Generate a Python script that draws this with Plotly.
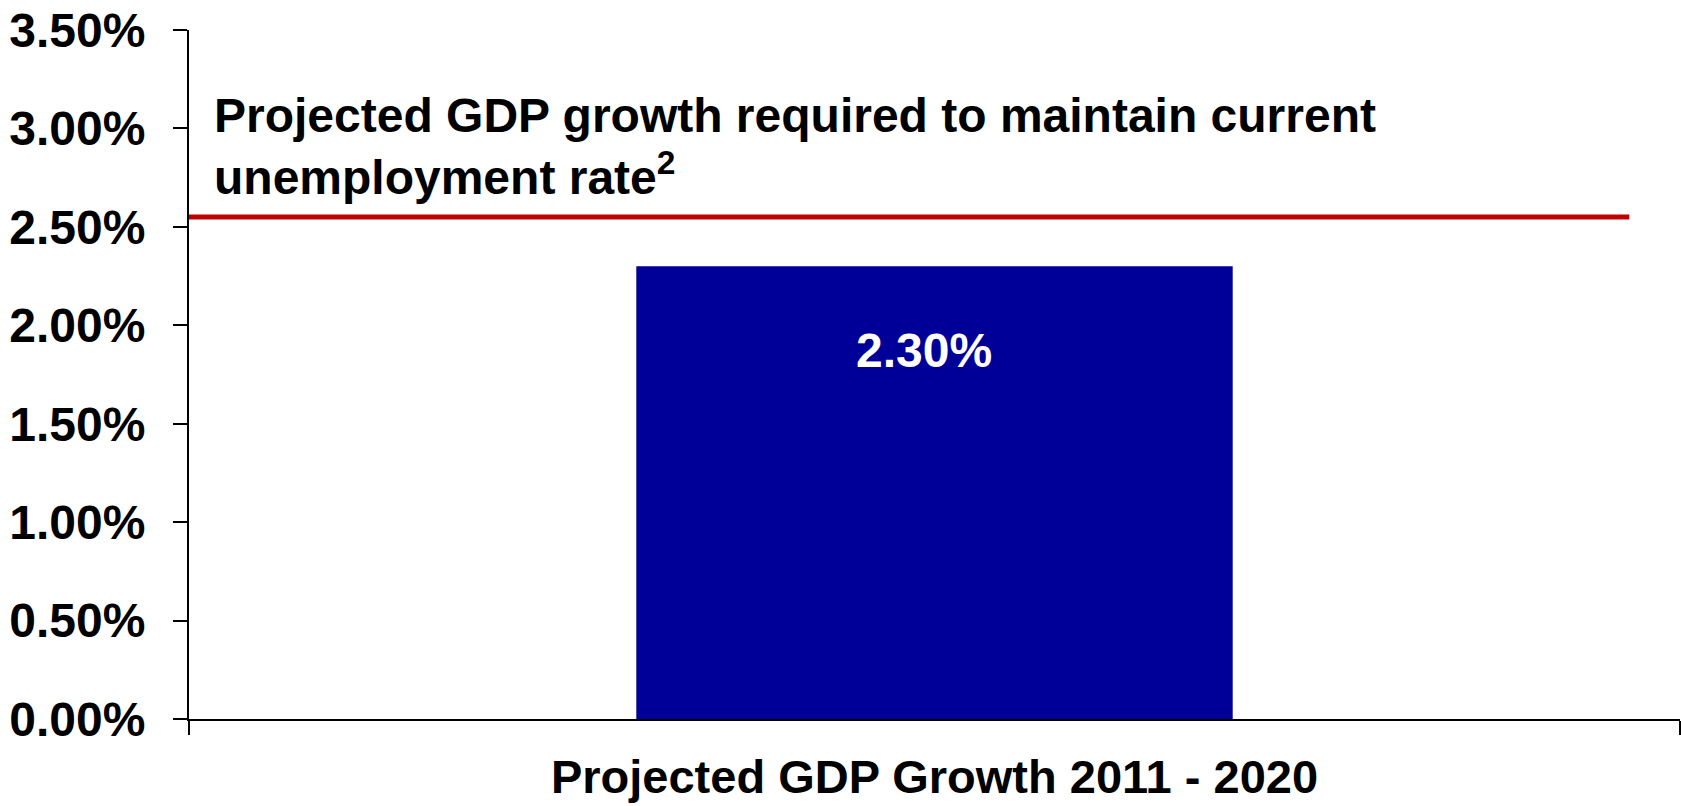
import plotly.graph_objects as go

# Chart data
categories = ["Projected GDP Growth 2011 - 2020"]
gdp_growth = [2.30]            # projected average annual GDP growth, %
required_growth = 2.55         # growth needed to hold unemployment steady, %
y_ticks = [0.0, 0.5, 1.0, 1.5, 2.0, 2.5, 3.0, 3.5]

FONT = "Liberation Sans, Arial, sans-serif"
BAR_COLOR = "#000099"
LINE_COLOR = "#C00000"

fig = go.Figure()

fig.add_trace(go.Bar(
    x=categories,
    y=gdp_growth,
    marker=dict(color=BAR_COLOR, line=dict(width=0)),
    width=0.4,
    hoverinfo="skip",
))

# value label inside the bar, near its top
for cat, val in zip(categories, gdp_growth):
    fig.add_annotation(
        x=cat, y=val, xref="x", yref="y",
        text=f"{val:.2f}%",
        showarrow=False,
        yanchor="top", yshift=-56, xshift=-11,
        font=dict(family=FONT, size=48, color="white", weight="bold"),
    )

# required-growth reference line
fig.add_shape(
    type="line", xref="paper", yref="y",
    x0=0, x1=0.966, y0=required_growth, y1=required_growth,
    line=dict(color=LINE_COLOR, width=5),
)

fig.add_annotation(
    xref="paper", yref="paper",
    x=0.0154, y=0.917, xanchor="left", yanchor="top", align="left",
    text="Projected GDP growth required to maintain current<br>unemployment rate<sup>2</sup>",
    showarrow=False,
    font=dict(family=FONT, size=48, color="black", weight="bold"),
)

fig.update_layout(
    width=1681, height=806,
    margin=dict(l=189, r=1, t=30, b=87),
    paper_bgcolor="white", plot_bgcolor="white",
    showlegend=False,
    font=dict(family=FONT, color="black"),
)

fig.update_xaxes(
    type="category",
    range=[-0.5, 0.5],
    showline=True, linecolor="black", linewidth=2,
    ticks="outside", tickson="boundaries", ticklen=14, tickwidth=2, tickcolor="black",
    tickfont=dict(family=FONT, size=47, color="black", weight="bold"),
    ticklabelstandoff=16,
    showgrid=False, zeroline=False,
)

fig.update_yaxes(
    range=[0, 3.5],
    tickvals=y_ticks,
    ticktext=[f"{v:.2f}%" for v in y_ticks],
    showline=True, linecolor="black", linewidth=2,
    ticks="outside", ticklen=14, tickwidth=2, tickcolor="black",
    tickfont=dict(family=FONT, size=48, color="black", weight="bold"),
    ticklabelstandoff=18,
    showgrid=False, zeroline=False,
)

fig.write_html("out.html")
